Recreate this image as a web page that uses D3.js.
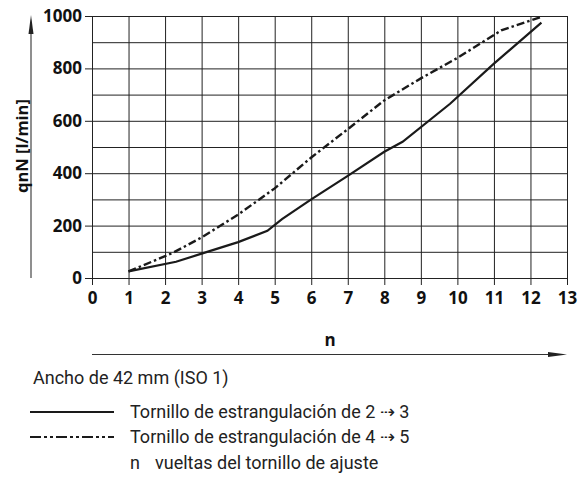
<!DOCTYPE html>
<html><head><meta charset="utf-8">
<script src="https://cdn.jsdelivr.net/npm/d3@7"></script>
<style>
body{margin:0;background:#fff;}
svg{display:block;}
</style></head>
<body><svg id="c" width="582" height="489"></svg>
<script>
// Data
const xTicks = [0,1,2,3,4,5,6,7,8,9,10,11,12,13];
const yTicks = [0,200,400,600,800,1000];
const yGrid = [0,100,200,300,400,500,600,700,800,900,1000];
const seriesNames = ["Tornillo de estrangulación de 2 \u21E2 3", "Tornillo de estrangulación de 4 \u21E2 5"];
const solidN =   [1, 2.3, 3, 4, 4.8, 5.2, 6, 7, 8, 8.5, 9.8, 11, 12.3];
const solidQ =   [25, 62, 93, 137, 180, 225, 300, 390, 482, 520, 665, 818, 975];
const dashedN =  [1, 2.2, 3, 4, 5, 6, 7, 8, 9, 10, 11.2, 12.3];
const dashedQ =  [25, 95, 155, 242, 342, 460, 568, 678, 762, 840, 945, 997];
const yLabel = "qnN [l/min]";
const xLabel = "n";
const subtitle = "Ancho de 42 mm (ISO 1)";
const noteText = ["n", "vueltas del tornillo de ajuste"];

const svg = d3.select("#c");
const x = d3.scaleLinear().domain([0,13]).range([92,567]);
const y = d3.scaleLinear().domain([0,1000]).range([278,16]);
const gridColor = "#222";
const boldFont = "'Open Sans', Roboto, sans-serif";
const textFont = "Roboto, 'Noto Sans', sans-serif";

// grid (vertical)
svg.append("g").attr("transform","translate(0,278)")
  .call(d3.axisBottom(x).tickValues(xTicks).tickSize(-(278-16)).tickFormat(""))
  .call(g=>g.select(".domain").remove())
  .call(g=>g.selectAll("line").attr("stroke",gridColor));
// grid horizontal
svg.append("g").attr("transform","translate(92,0)")
  .call(d3.axisLeft(y).tickValues(yGrid).tickSize(-(567-92)).tickFormat(""))
  .call(g=>g.select(".domain").remove())
  .call(g=>g.selectAll("line").attr("stroke",gridColor));

// x axis ticks + labels
svg.append("g").attr("transform","translate(0,278)")
  .call(d3.axisBottom(x).tickValues(xTicks).tickSize(7).tickPadding(7).tickFormat(d3.format("d")))
  .call(g=>g.select(".domain").remove())
  .call(g=>g.selectAll("line").attr("stroke",gridColor))
  .call(g=>g.selectAll("text").attr("font-family",boldFont).attr("font-weight","bold").attr("font-size",17).attr("fill","#111"));
// y axis ticks + labels
svg.append("g").attr("transform","translate(92,0)")
  .call(d3.axisLeft(y).tickValues(yTicks).tickSize(7).tickPadding(3).tickFormat(d3.format("d")))
  .call(g=>g.select(".domain").remove())
  .call(g=>g.selectAll("line").attr("stroke",gridColor))
  .call(g=>g.selectAll("text").attr("font-family",boldFont).attr("font-weight","bold").attr("font-size",17).attr("fill","#111"));

// series
const line = d3.line().x(d=>x(d[0])).y(d=>y(d[1]));
svg.append("path").datum(solidN.map((n,i)=>[n,solidQ[i]]))
  .attr("d",line).attr("fill","none").attr("stroke","#1a1a1a").attr("stroke-width",2.2);
svg.append("path").datum(dashedN.map((n,i)=>[n,dashedQ[i]]))
  .attr("d",line).attr("fill","none").attr("stroke","#1a1a1a").attr("stroke-width",2.4)
  .attr("stroke-dasharray","8,3,2.5,3");

// y axis arrow
svg.append("line").attr("x1",31).attr("x2",31).attr("y1",278).attr("y2",28).attr("stroke","#333").attr("stroke-width",1.1);
svg.append("path").attr("d","M31,15 L33.5,34 L28.5,34 Z").attr("fill","#222");
svg.append("text").attr("transform","translate(28,146) rotate(-90)")
  .attr("text-anchor","middle").attr("font-family",boldFont).attr("font-weight","bold")
  .attr("font-size",16.5).attr("fill","#111").text(yLabel);

// x axis arrow
svg.append("line").attr("x1",92).attr("x2",552).attr("y1",354.5).attr("y2",354.5).attr("stroke","#333").attr("stroke-width",1.1);
svg.append("path").attr("d","M567,354.5 L548,352 L548,357 Z").attr("fill","#222");
svg.append("text").attr("x",330).attr("y",346).attr("text-anchor","middle")
  .attr("font-family",boldFont).attr("font-weight","bold").attr("font-size",17).attr("fill","#111").text(xLabel);

// subtitle
svg.append("text").attr("x",33).attr("y",384).attr("font-family",textFont).attr("font-size",18).attr("fill","#222").text(subtitle);

// legend
const legY = [418, 443];
const leg = svg.append("g");
seriesNames.forEach((name,i)=>{
  leg.append("line").attr("x1",30).attr("x2",114).attr("y1",legY[i]-6).attr("y2",legY[i]-6)
    .attr("stroke","#1a1a1a").attr("stroke-width",2)
    .attr("stroke-dasharray", i===1 ? "11,3,3,3,3,3" : null);
  leg.append("text").attr("x",130).attr("y",legY[i]).attr("font-family",textFont).attr("font-size",18).attr("fill","#222").text(name);
});
svg.append("text").attr("x",130).attr("y",469).attr("font-family",textFont).attr("font-size",18).attr("fill","#222").text(noteText[0]);
svg.append("text").attr("x",155).attr("y",469).attr("font-family",textFont).attr("font-size",18).attr("fill","#222").text(noteText[1]);
</script></body></html>
